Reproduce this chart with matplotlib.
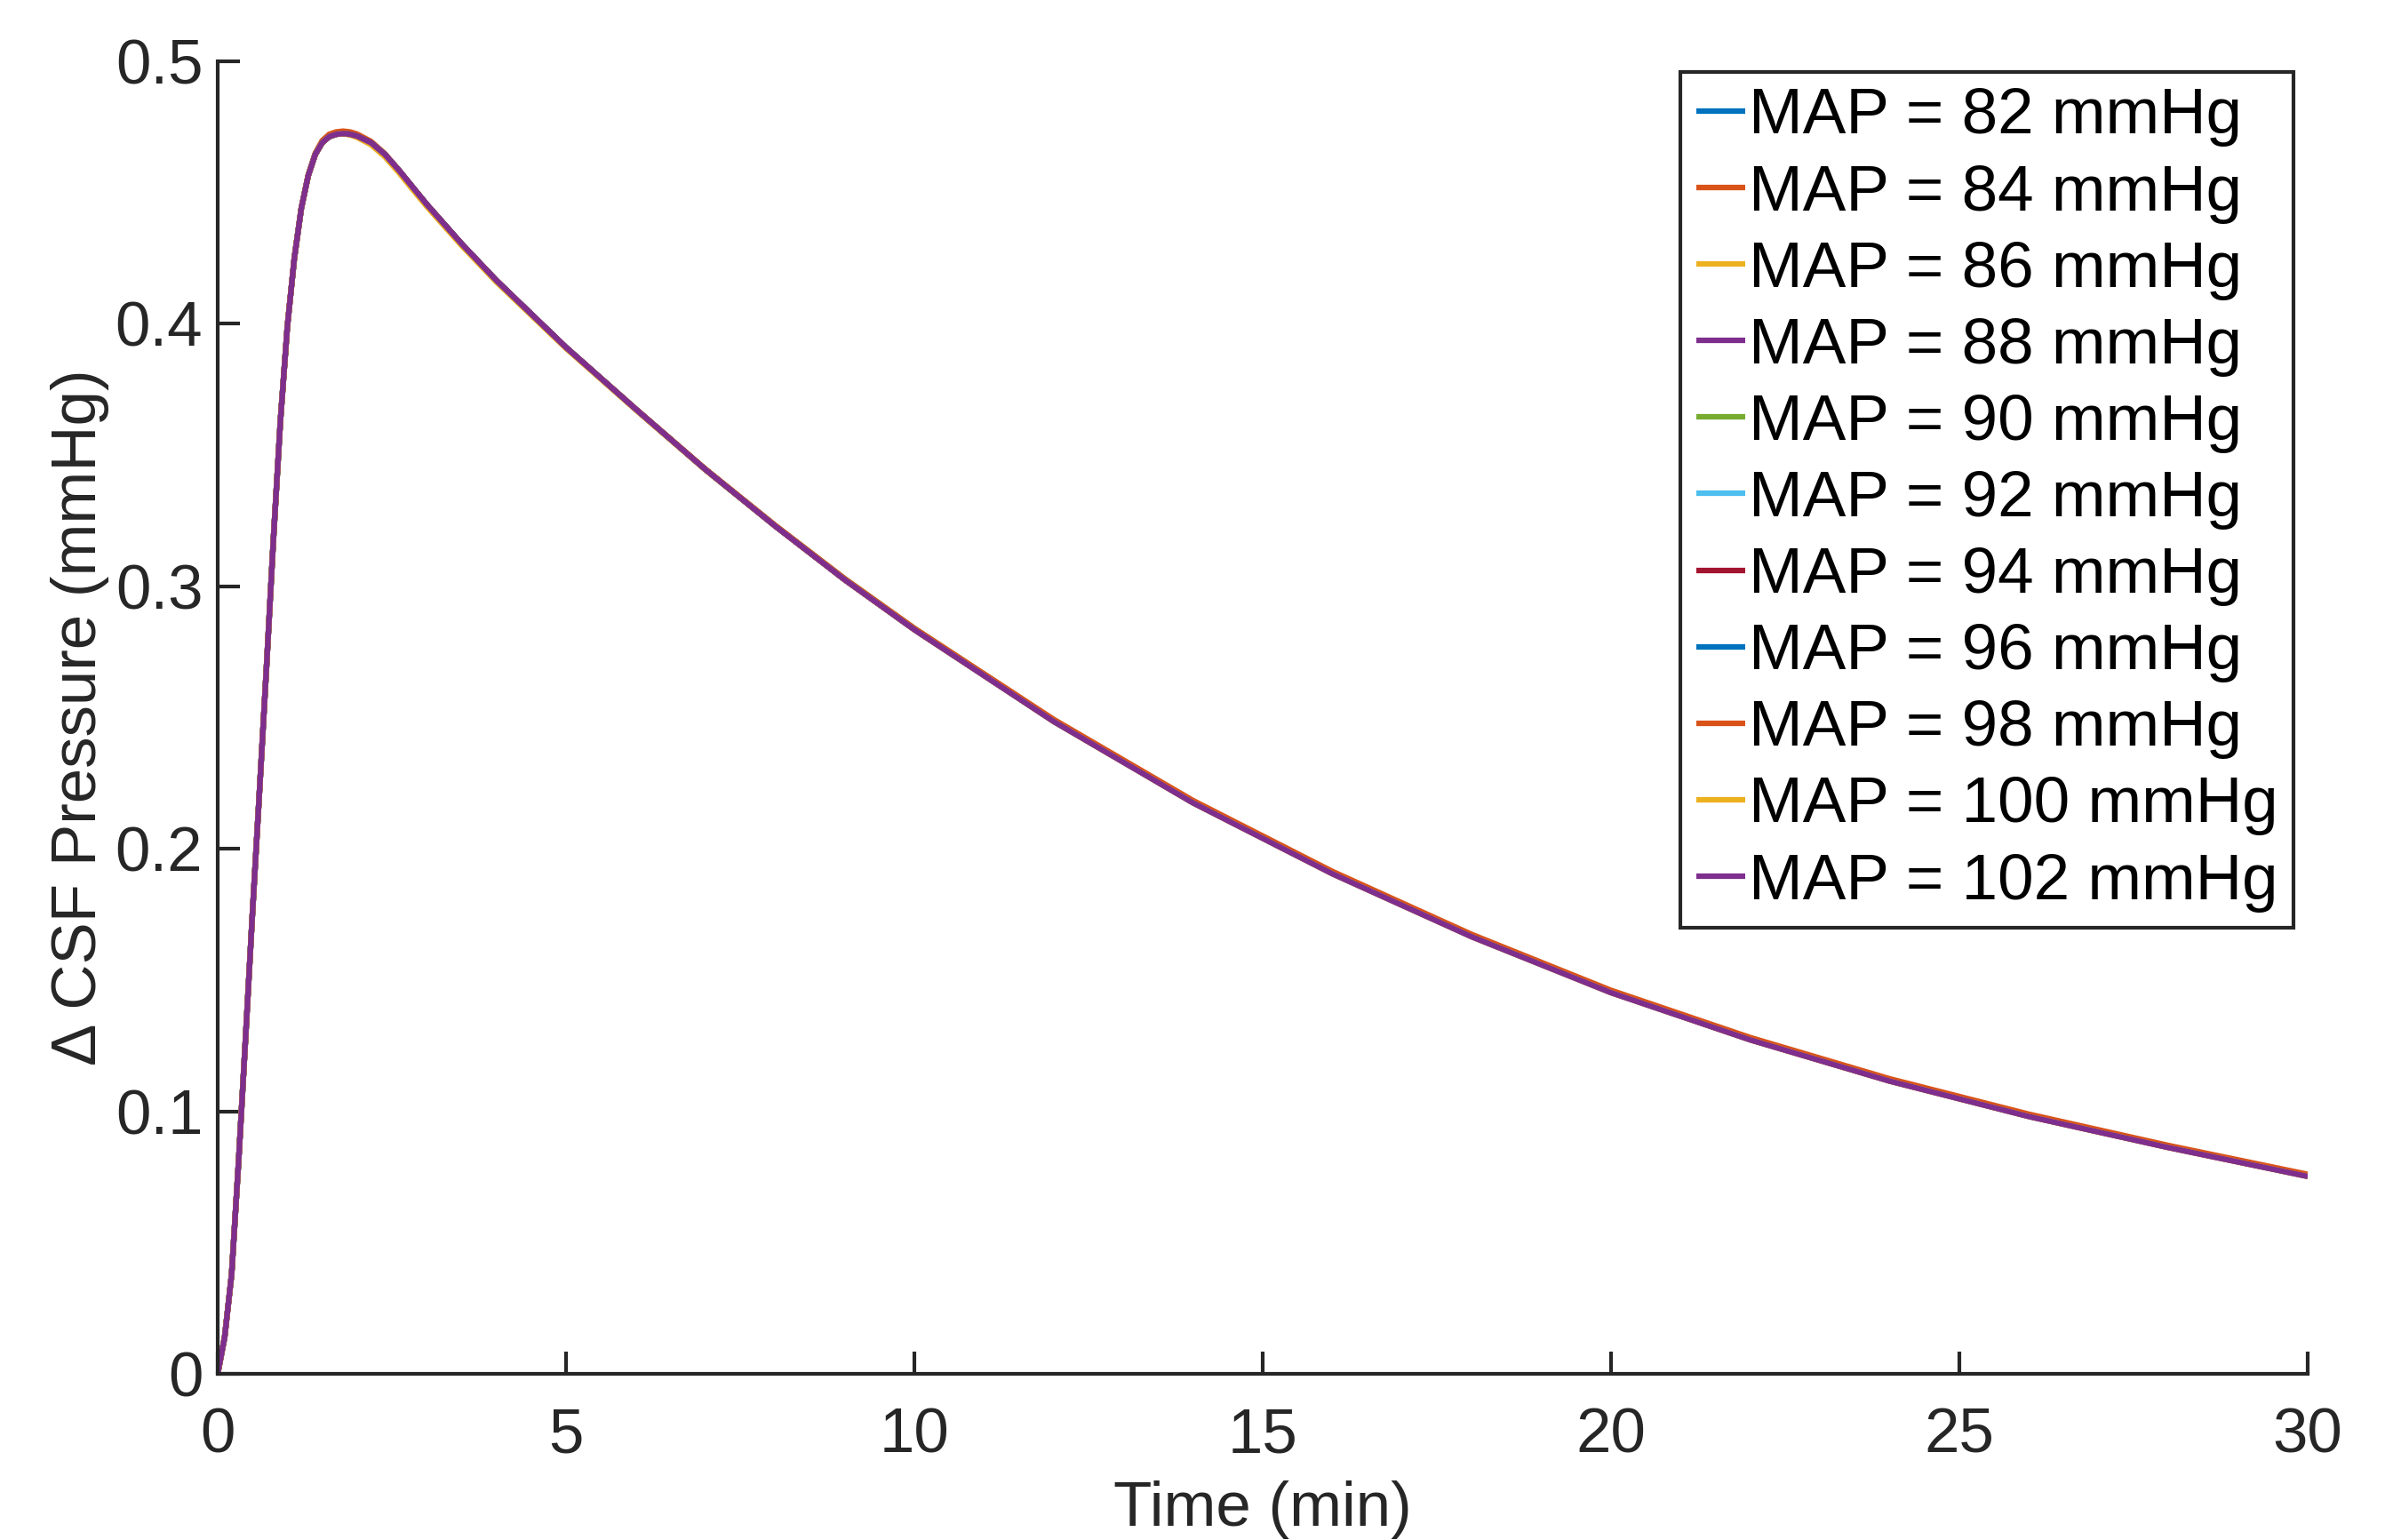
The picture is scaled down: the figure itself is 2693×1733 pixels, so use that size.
import matplotlib
matplotlib.use("Agg")
import matplotlib.pyplot as plt

# time axis (min)
time_min = [0, 0.1, 0.2, 0.3, 0.4, 0.5, 0.6, 0.7, 0.8, 0.9, 1.0, 1.1, 1.2, 1.3, 1.4, 1.5, 1.6, 1.7, 1.8, 1.9,
            2.0, 2.2, 2.4, 2.6, 2.8, 3.0, 3.5, 4.0, 5, 6, 7, 8, 9, 10, 12, 14, 16, 18, 20, 22, 24, 26, 28, 30]

# delta CSF pressure (mmHg) for each MAP level
csf_82 = [0, 0.014, 0.038, 0.081, 0.128, 0.176, 0.222, 0.269, 0.318, 0.363, 0.399, 0.425, 0.444, 0.4565, 0.4645, 0.4690, 0.4713, 0.4722, 0.4725, 0.4722,
          0.4715, 0.4690, 0.4645, 0.4585, 0.4520, 0.4455, 0.4305, 0.4165, 0.391, 0.3675, 0.3445, 0.3231, 0.3027, 0.2837, 0.2488, 0.2178, 0.1908, 0.1668, 0.1455, 0.1275, 0.1118, 0.0983, 0.0865, 0.0755]
csf_84 = [0, 0.014, 0.038, 0.081, 0.128, 0.176, 0.222, 0.269, 0.318, 0.363, 0.399, 0.425, 0.444, 0.4568, 0.4650, 0.4698, 0.4722, 0.4731, 0.4734, 0.4731,
          0.4723, 0.4695, 0.4648, 0.4586, 0.4520, 0.4455, 0.4305, 0.4165, 0.391, 0.3675, 0.3445, 0.3230, 0.3026, 0.2836, 0.2487, 0.2177, 0.1907, 0.1667, 0.1454, 0.1274, 0.1117, 0.0982, 0.0864, 0.0754]
csf_86 = [0, 0.014, 0.038, 0.081, 0.128, 0.176, 0.222, 0.269, 0.318, 0.363, 0.399, 0.425, 0.444, 0.4565, 0.4645, 0.4690, 0.4713, 0.4722, 0.4725, 0.4720,
          0.4711, 0.4683, 0.4637, 0.4577, 0.4512, 0.4448, 0.4299, 0.4160, 0.3907, 0.3673, 0.3444, 0.3230, 0.3025, 0.2835, 0.2486, 0.2176, 0.1906, 0.1666, 0.1453, 0.1273, 0.1116, 0.0981, 0.0863, 0.0753]
csf_88 = [0, 0.014, 0.038, 0.081, 0.128, 0.176, 0.222, 0.269, 0.318, 0.363, 0.399, 0.425, 0.444, 0.4565, 0.4645, 0.4690, 0.4713, 0.4722, 0.4725, 0.4722,
          0.4715, 0.4690, 0.4645, 0.4585, 0.4520, 0.4455, 0.4305, 0.4165, 0.391, 0.3675, 0.3445, 0.3230, 0.3025, 0.2835, 0.2486, 0.2176, 0.1906, 0.1666, 0.1453, 0.1273, 0.1116, 0.0981, 0.0863, 0.0753]
csf_90 = [0, 0.014, 0.038, 0.081, 0.128, 0.176, 0.222, 0.269, 0.318, 0.363, 0.399, 0.425, 0.444, 0.4565, 0.4645, 0.4690, 0.4713, 0.4722, 0.4725, 0.4722,
          0.4715, 0.4690, 0.4645, 0.4585, 0.4520, 0.4455, 0.4305, 0.4165, 0.391, 0.3675, 0.3446, 0.3232, 0.3029, 0.2840, 0.2491, 0.2181, 0.1911, 0.1671, 0.1458, 0.1277, 0.1119, 0.0983, 0.0864, 0.0754]
csf_92 = [0, 0.014, 0.038, 0.081, 0.128, 0.176, 0.222, 0.269, 0.318, 0.363, 0.399, 0.425, 0.444, 0.4565, 0.4645, 0.4690, 0.4713, 0.4722, 0.4725, 0.4722,
          0.4715, 0.4690, 0.4645, 0.4585, 0.4520, 0.4455, 0.4305, 0.4165, 0.391, 0.3675, 0.3445, 0.3230, 0.3025, 0.2835, 0.2486, 0.2176, 0.1906, 0.1666, 0.1453, 0.1273, 0.1116, 0.0981, 0.0863, 0.0753]
csf_94 = [0, 0.014, 0.038, 0.081, 0.128, 0.176, 0.222, 0.269, 0.318, 0.363, 0.399, 0.425, 0.444, 0.4565, 0.4645, 0.4690, 0.4713, 0.4722, 0.4725, 0.4722,
          0.4715, 0.4690, 0.4645, 0.4585, 0.4520, 0.4455, 0.4305, 0.4165, 0.391, 0.3675, 0.3445, 0.3230, 0.3025, 0.2835, 0.2486, 0.2176, 0.1906, 0.1666, 0.1453, 0.1273, 0.1116, 0.0981, 0.0863, 0.0753]
csf_96 = [0, 0.014, 0.038, 0.081, 0.128, 0.176, 0.222, 0.269, 0.318, 0.363, 0.399, 0.425, 0.444, 0.4565, 0.4645, 0.4690, 0.4713, 0.4722, 0.4725, 0.4722,
          0.4715, 0.4690, 0.4645, 0.4585, 0.4520, 0.4455, 0.4305, 0.4165, 0.391, 0.3675, 0.3445, 0.3231, 0.3027, 0.2837, 0.2488, 0.2179, 0.1909, 0.1669, 0.1456, 0.1276, 0.1118, 0.0983, 0.0864, 0.0754]
csf_98 = [0, 0.014, 0.038, 0.081, 0.128, 0.176, 0.222, 0.269, 0.318, 0.363, 0.399, 0.425, 0.444, 0.4565, 0.4645, 0.4690, 0.4713, 0.4722, 0.4725, 0.4722,
          0.4715, 0.4690, 0.4645, 0.4585, 0.4520, 0.4455, 0.4305, 0.4165, 0.391, 0.3676, 0.3447, 0.3233, 0.3029, 0.2840, 0.2493, 0.2184, 0.1914, 0.1674, 0.1461, 0.1281, 0.1124, 0.0989, 0.0870, 0.0760]
csf_100 = [0, 0.014, 0.038, 0.081, 0.128, 0.176, 0.222, 0.269, 0.318, 0.363, 0.399, 0.425, 0.444, 0.4565, 0.4645, 0.4690, 0.4713, 0.4722, 0.4725, 0.4720,
           0.4711, 0.4683, 0.4637, 0.4577, 0.4512, 0.4448, 0.4299, 0.4160, 0.3907, 0.3673, 0.3444, 0.3230, 0.3025, 0.2835, 0.2485, 0.2175, 0.1905, 0.1665, 0.1452, 0.1272, 0.1115, 0.0980, 0.0862, 0.0752]
csf_102 = [0, 0.014, 0.038, 0.081, 0.128, 0.176, 0.222, 0.269, 0.318, 0.363, 0.399, 0.425, 0.444, 0.4565, 0.4645, 0.4690, 0.4713, 0.4722, 0.4725, 0.4722,
           0.4715, 0.4690, 0.4645, 0.4585, 0.4520, 0.4455, 0.4305, 0.4165, 0.391, 0.3675, 0.3445, 0.3230, 0.3025, 0.2835, 0.2485, 0.2175, 0.1905, 0.1665, 0.1452, 0.1272, 0.1115, 0.0980, 0.0862, 0.0752]

map_levels = [82, 84, 86, 88, 90, 92, 94, 96, 98, 100, 102]
series = [csf_82, csf_84, csf_86, csf_88, csf_90, csf_92, csf_94, csf_96, csf_98, csf_100, csf_102]

# MATLAB default line colour order
colours = ["#0072BD", "#D95319", "#EDB120", "#7E2F8E", "#77AC30", "#4DBEEE", "#A2142F",
           "#0072BD", "#D95319", "#EDB120", "#7E2F8E"]

x_ticks = [0, 5, 10, 15, 20, 25, 30]
y_ticks = [0, 0.1, 0.2, 0.3, 0.4, 0.5]
y_tick_labels = ["0", "0.1", "0.2", "0.3", "0.4", "0.5"]

plt.rcParams['font.family'] = ['Liberation Sans', 'DejaVu Sans']
dark = "#262626"

fig = plt.figure(figsize=(2693 / 300, 1733 / 300), dpi=300)
ax = fig.add_axes([245 / 2693, 187 / 1733, 2352 / 2693, 1477 / 1733])

for level, vals, c in zip(map_levels, series, colours):
    ax.plot(time_min, vals, color=c, lw=1.5, label=f"MAP = {level} mmHg", solid_capstyle='butt')

ax.set_xlim(0, 30)
ax.set_ylim(0, 0.5)
ax.set_xticks(x_ticks)
ax.set_yticks(y_ticks)
ax.set_yticklabels(y_tick_labels)

for side in ['top', 'right']:
    ax.spines[side].set_visible(False)
for side in ['left', 'bottom']:
    ax.spines[side].set_color(dark)
    ax.spines[side].set_linewidth(1.0)

ax.tick_params(direction='in', length=6, width=1.0, color=dark, labelcolor=dark, labelsize=17)
ax.tick_params(axis='x', pad=9)
ax.tick_params(axis='y', pad=4)

ax.set_xlabel("Time (min)", fontsize=17, color=dark)
ax.set_ylabel("\u0394 CSF Pressure (mmHg)", fontsize=17, color=dark)
ax.xaxis.set_label_coords(0.5, -0.081)
ax.yaxis.set_label_coords(-0.052, 0.5)

leg = ax.legend(loc='upper right', bbox_to_anchor=(0.9932, 0.9919), borderaxespad=0,
                fontsize=17.5, handlelength=0.75, handletextpad=0.06, labelspacing=0.262,
                borderpad=0.24, fancybox=False, framealpha=1, edgecolor=dark)
leg.get_frame().set_linewidth(1.0)

fig.savefig("out.png", dpi=300)
